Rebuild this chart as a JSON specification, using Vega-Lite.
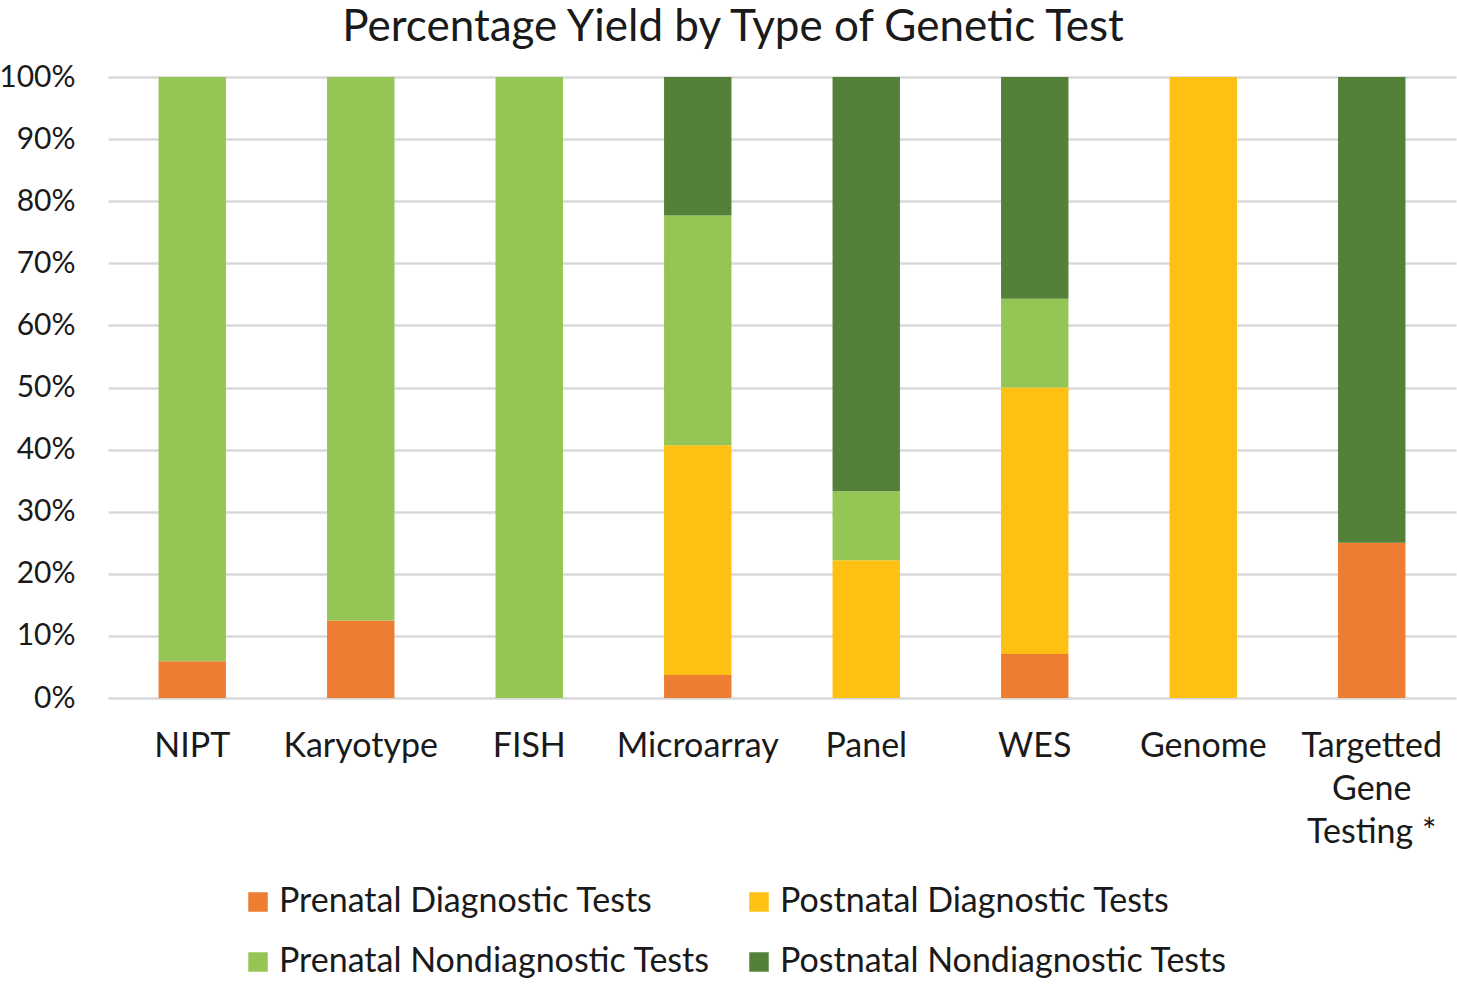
{
  "$schema": "https://vega.github.io/schema/vega-lite/v6.json",
  "autosize": {"type": "none"},
  "width": 1348,
  "height": 621,
  "padding": {"left": 108, "top": 77, "right": 1, "bottom": 286},
  "background": "white",
  "title": {
    "text": "Percentage Yield by Type of Genetic Test",
    "font": "Lato",
    "fontSize": 44,
    "fontWeight": "normal",
    "color": "#1a1a1a",
    "anchor": "middle",
    "dx": -49,
    "offset": 12
  },
  "data": {
    "values": [
      {"test": "NIPT", "type": "Prenatal Diagnostic Tests", "value": 5.9},
      {"test": "NIPT", "type": "Prenatal Nondiagnostic Tests", "value": 94.1},
      {"test": "Karyotype", "type": "Prenatal Diagnostic Tests", "value": 12.5},
      {"test": "Karyotype", "type": "Prenatal Nondiagnostic Tests", "value": 87.5},
      {"test": "FISH", "type": "Prenatal Nondiagnostic Tests", "value": 100},
      {"test": "Microarray", "type": "Prenatal Diagnostic Tests", "value": 3.7},
      {"test": "Microarray", "type": "Postnatal Diagnostic Tests", "value": 37.0},
      {"test": "Microarray", "type": "Prenatal Nondiagnostic Tests", "value": 37.0},
      {"test": "Microarray", "type": "Postnatal Nondiagnostic Tests", "value": 22.3},
      {"test": "Panel", "type": "Postnatal Diagnostic Tests", "value": 22.2},
      {"test": "Panel", "type": "Prenatal Nondiagnostic Tests", "value": 11.1},
      {"test": "Panel", "type": "Postnatal Nondiagnostic Tests", "value": 66.7},
      {"test": "WES", "type": "Prenatal Diagnostic Tests", "value": 7.1},
      {"test": "WES", "type": "Postnatal Diagnostic Tests", "value": 42.9},
      {"test": "WES", "type": "Prenatal Nondiagnostic Tests", "value": 14.3},
      {"test": "WES", "type": "Postnatal Nondiagnostic Tests", "value": 35.7},
      {"test": "Genome", "type": "Postnatal Diagnostic Tests", "value": 100},
      {"test": "Targetted Gene Testing *", "type": "Prenatal Diagnostic Tests", "value": 25},
      {"test": "Targetted Gene Testing *", "type": "Postnatal Nondiagnostic Tests", "value": 75}
    ]
  },
  "transform": [
    {"calculate": "indexof(['Prenatal Diagnostic Tests','Postnatal Diagnostic Tests','Prenatal Nondiagnostic Tests','Postnatal Nondiagnostic Tests'], datum.type)", "as": "ord"}
  ],
  "mark": {"type": "bar"},
  "encoding": {
    "x": {
      "field": "test",
      "type": "nominal",
      "sort": ["NIPT", "Karyotype", "FISH", "Microarray", "Panel", "WES", "Genome", "Targetted Gene Testing *"],
      "scale": {"paddingInner": 0.6, "paddingOuter": 0.3},
      "axis": {
        "title": null,
        "labelAngle": 0,
        "labelFont": "Lato",
        "labelFontSize": 34,
        "labelColor": "#1a1a1a",
        "labelPadding": 31,
        "labelLineHeight": 43,
        "labelBaseline": "top",
        "ticks": false,
        "domain": false,
        "labelExpr": "datum.label == 'Targetted Gene Testing *' ? ['Targetted', 'Gene', 'Testing *'] : datum.label"
      }
    },
    "y": {
      "field": "value",
      "type": "quantitative",
      "stack": "normalize",
      "scale": {"domain": [0, 1]},
      "axis": {
        "title": null,
        "format": ".0%",
        "values": [0, 0.1, 0.2, 0.3, 0.4, 0.5, 0.6, 0.7, 0.8, 0.9, 1],
        "labelOverlap": false,
        "labelFont": "Lato",
        "labelFontSize": 30,
        "labelColor": "#1a1a1a",
        "labelPadding": 33,
        "ticks": false,
        "domain": false,
        "grid": true,
        "gridColor": "#d9d9d9",
        "gridWidth": 2.5
      }
    },
    "color": {
      "field": "type",
      "type": "nominal",
      "scale": {
        "domain": ["Prenatal Diagnostic Tests", "Postnatal Diagnostic Tests", "Prenatal Nondiagnostic Tests", "Postnatal Nondiagnostic Tests"],
        "range": ["#ed7d31", "#fec013", "#95c655", "#548139"]
      },
      "legend": {
        "title": null,
        "orient": "none",
        "legendX": 133,
        "legendY": 808,
        "direction": "horizontal",
        "columns": 2,
        "symbolType": "square",
        "symbolSize": 380,
        "symbolStrokeWidth": 0,
        "labelFont": "Lato",
        "labelFontSize": 34,
        "labelColor": "#1a1a1a",
        "labelOffset": 4,
        "labelLimit": 520,
        "columnPadding": 31,
        "rowPadding": 26
      }
    },
    "order": {"field": "ord", "type": "quantitative"}
  },
  "config": {"view": {"stroke": null}}
}
